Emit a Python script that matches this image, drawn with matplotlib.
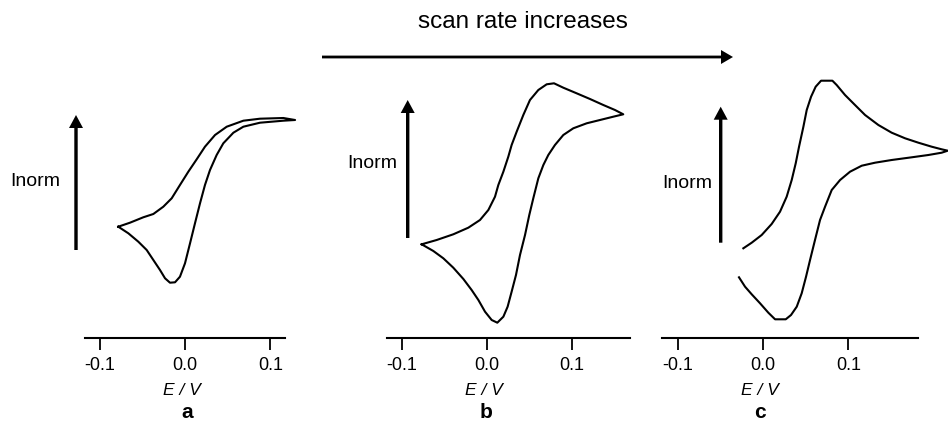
import matplotlib
matplotlib.use("Agg")
import matplotlib.pyplot as plt
from matplotlib.patches import FancyArrow
from matplotlib.transforms import blended_transform_factory

plt.rcParams['font.family'] = ['Liberation Sans', 'DejaVu Sans']

# ---------------- data (E in V, normalised current in arbitrary units) ----------------
tick_values = [-0.1, 0.0, 0.1]
tick_labels = ["-0.1", "0.0", "0.1"]
panel_letters = ["a", "b", "c"]

# panel a (slow scan)
Ea = [-0.0782, -0.0645, -0.0489, -0.0371, -0.0254, -0.0156, -0.0059, 0.0039, 0.0137,
      0.0234, 0.0352, 0.0489, 0.0684, 0.0879, 0.1153, 0.1290,
      0.1153, 0.0879, 0.0684, 0.0567, 0.0449, 0.0371, 0.0293, 0.0234, 0.0176, 0.0117,
      0.0059, 0.0000, -0.0059, -0.0117, -0.0176, -0.0234, -0.0293, -0.0371, -0.0449,
      -0.0547, -0.0664, -0.0782]
Ia = [1.110, 1.150, 1.204, 1.237, 1.310, 1.394, 1.527, 1.660, 1.784,
      1.910, 2.027, 2.110, 2.170, 2.190, 2.197, 2.177,
      2.170, 2.150, 2.110, 2.050, 1.944, 1.827, 1.677, 1.527, 1.344, 1.144,
      0.944, 0.744, 0.610, 0.554, 0.550, 0.594, 0.677, 0.777, 0.877,
      0.960, 1.044, 1.110]

# panel b (intermediate scan)
Eb = [-0.0765, -0.0589, -0.0394, -0.0218, -0.0081, 0.0017, 0.0095, 0.0134, 0.0193,
      0.0251, 0.0290, 0.0349, 0.0427, 0.0505, 0.0603, 0.0701, 0.0787, 0.0896,
      0.1052, 0.1209, 0.1365, 0.1502, 0.1599,
      0.1482, 0.1326, 0.1170, 0.1013, 0.0896, 0.0798, 0.0720, 0.0662, 0.0603,
      0.0544, 0.0497, 0.0447, 0.0388, 0.0341, 0.0290, 0.0243, 0.0193, 0.0122,
      0.0056, -0.0022, -0.0100, -0.0179, -0.0276, -0.0394, -0.0511, -0.0628, -0.0765]
Ib = [0.934, 0.977, 1.034, 1.100, 1.177, 1.277, 1.410, 1.527, 1.660,
      1.810, 1.927, 2.060, 2.227, 2.377, 2.477, 2.534, 2.544, 2.500,
      2.444, 2.387, 2.327, 2.277, 2.234,
      2.210, 2.177, 2.144, 2.094, 2.027, 1.927, 1.827, 1.727, 1.594,
      1.394, 1.227, 1.027, 0.827, 0.627, 0.460, 0.310, 0.210, 0.150,
      0.177, 0.260, 0.377, 0.477, 0.587, 0.700, 0.794, 0.867, 0.934]

# panel c (fast scan)
Ec = [-0.0232, -0.0134, -0.0017, 0.0100, 0.0198, 0.0276, 0.0335, 0.0382, 0.0421,
      0.0472, 0.0511, 0.0562, 0.0616, 0.0679, 0.0812, 0.0862, 0.0960, 0.1077,
      0.1195, 0.1351, 0.1507, 0.1664, 0.1820, 0.1976, 0.2093, 0.2164,
      0.2093, 0.1937, 0.1742, 0.1507, 0.1312, 0.1156, 0.1019, 0.0902, 0.0804,
      0.0726, 0.0667, 0.0608, 0.0550, 0.0503, 0.0452, 0.0394, 0.0327, 0.0265,
      0.0140, 0.0061, -0.0036, -0.0134, -0.0212, -0.0283]
Ic = [0.894, 0.950, 1.027, 1.137, 1.260, 1.410, 1.577, 1.744, 1.910,
      2.110, 2.277, 2.410, 2.510, 2.570, 2.570, 2.527, 2.427, 2.327,
      2.227, 2.127, 2.050, 1.994, 1.950, 1.910, 1.884, 1.870,
      1.850, 1.827, 1.804, 1.777, 1.750, 1.720, 1.660, 1.577, 1.477,
      1.310, 1.177, 0.977, 0.777, 0.610, 0.444, 0.310, 0.227, 0.184,
      0.184, 0.250, 0.344, 0.434, 0.510, 0.604]

E_sets = [Ea, Eb, Ec]
I_sets = [Ia, Ib, Ic]
xlims = [(-0.1172, 0.1172), (-0.1175, 0.1678), (-0.1182, 0.1819)]
ylim = (0.0, 2.8)

# ---------------- layout ----------------
W, H = 948, 426
fig = plt.figure(figsize=(W / 100, H / 100), dpi=100)

def frac(x0, x1, ybot, ytop):
    return [x0 / W, 1 - ybot / H, (x1 - x0) / W, (ybot - ytop) / H]

boxes = [frac(85, 285, 337.7, 57.7), frac(386.7, 630, 337.7, 57.7), frac(662.3, 918.3, 337.7, 57.7)]
letter_x = [0.002, -0.001, -0.004]

for box, E, I, xl, letter, lx in zip(boxes, E_sets, I_sets, xlims, panel_letters, letter_x):
    ax = fig.add_axes(box)
    ax.plot(E, I, color='black', lw=1.5, clip_on=False, solid_joinstyle='round')
    ax.set_xlim(*xl)
    ax.set_ylim(*ylim)
    for s in ['top', 'right', 'left']:
        ax.spines[s].set_visible(False)
    ax.spines['bottom'].set_linewidth(1.5)
    ax.set_yticks([])
    ax.set_xticks(tick_values)
    ax.set_xticklabels(tick_labels)
    ax.tick_params(axis='x', direction='out', length=8.6, width=1.3, pad=5, labelsize=13)
    ax.patch.set_visible(False)
    tr = blended_transform_factory(ax.transData, ax.transAxes)
    ax.text(-0.004, -0.162, "E / V", transform=tr, ha='center', va='top',
            fontsize=12.5, fontstyle='italic')
    ax.text(lx, -0.287, letter, transform=tr, ha='center', va='baseline',
            fontsize=15, fontweight='bold')

# overlay for annotation arrows and labels (pixel coordinates)
ov = fig.add_axes([0, 0, 1, 1])
ov.set_xlim(0, W)
ov.set_ylim(H, 0)
ov.axis('off')
ov.patch.set_visible(False)

arrow_specs = [(76, 250, 115), (407.7, 238, 100), (720.7, 242.7, 106.7)]
for x, y0, y1 in arrow_specs:
    ov.add_patch(FancyArrow(x, y0, 0, y1 - y0, width=3.4, head_width=14, head_length=13,
                            length_includes_head=True, color='black', lw=0))

inorm_pos = [(35, 181), (372, 163), (687, 184)]
for x, y in inorm_pos:
    ov.text(x, y, "Inorm", ha='center', va='center', fontsize=14)

ov.add_patch(FancyArrow(322, 57, 411, 0, width=2.8, head_width=14, head_length=12,
                        length_includes_head=True, color='black', lw=0))
ov.text(522.5, 28, "scan rate increases", ha='center', va='baseline', fontsize=17.5)

fig.savefig("out.png", dpi=100)
